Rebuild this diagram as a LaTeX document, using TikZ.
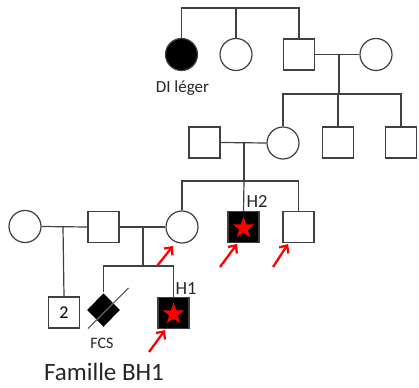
\documentclass[tikz,border=0pt]{standalone}
\usepackage{fontspec}
\setmainfont{Carlito}
\usetikzlibrary{shapes.geometric,arrows.meta}
\definecolor{ln}{RGB}{64,64,64}
\begin{document}
\begin{tikzpicture}[x=1pt,y=-1pt,
  line width=1.2pt,
  male/.style={draw=ln,rectangle,minimum size=31pt,inner sep=0pt,fill=white},
  female/.style={draw=ln,circle,minimum size=32pt,inner sep=0pt,fill=white},
  affected/.style={fill=black},
  lnk/.style={draw=ln,line width=1.2pt},
  redarrow/.style={draw=red,line width=2.3pt,-{Straight Barb[length=6pt,width=11pt]}},
  rstar/.style={star,star points=5,star point ratio=2.618,fill=red,minimum size=23pt,inner sep=0pt},
  lab/.style={font=\fontsize{17}{19}\selectfont,text=black!85,inner sep=0pt},
  hlab/.style={font=\fontsize{18.5}{20}\selectfont,text=black!85,inner sep=0pt}]
\useasboundingbox (0,0) rectangle (419,387);
% generation I
\node[female,affected] (di) at (181.5,54.5) {};
\node[female] (sis) at (236,54.5) {};
\node[male] (g1m) at (299,54.5) {};
\node[female] (g1w) at (376,54.5) {};
\node[lab] (dil) at (182.5,88.5) {DI léger};
\coordinate (s1) at (236,8);
\draw[lnk] (di.north) |- (s1) -| (g1m.north);
\draw[lnk] (sis.north) -- (s1);
\draw[lnk] (g1m.east) -- (g1w.west);
\coordinate (m1) at (339,54.5);
\coordinate (sib2) at (339,94);
% generation II
\node[male] (g2h) at (204.5,142.5) {};
\node[female] (g2w) at (283,143) {};
\node[male] (b1) at (338,142.5) {};
\node[male] (b2) at (401,142.5) {};
\draw[lnk] (m1) -- (sib2);
\draw[lnk] (g2w.north) |- (sib2) -| (b2.north);
\draw[lnk] (b1.north) -- (b1.north |- sib2);
\draw[lnk] (g2h.east) -- (g2w.west);
\coordinate (m2) at (244,142.5);
\coordinate (sib3) at (244,181);
% generation III
\node[female] (m3) at (182,227) {};
\node[male,affected] (h2) at (243.5,227) {};
\node[rstar] (h2s) at (243.5,228) {};
\node[male] (b3) at (298.5,227) {};
\node[hlab] (h2l) at (257,201.5) {H2};
\draw[lnk] (m2) -- (sib3);
\draw[lnk] (m3.north) |- (sib3) -| (b3.north);
\draw[lnk] (h2.north) -- (sib3);
% left family
\node[female] (lw) at (25,226.5) {};
\node[male] (lh) at (103.5,227) {};
\draw[lnk] (lw.east) -- (lh.west);
\draw[lnk] (lh.east) -- (m3.west);
\coordinate (m4) at (63,227);
\coordinate (m5) at (143,227);
\coordinate (sib4) at (143,266);
% generation IV
\node[male] (two) at (64,312.5) {\fontsize{18}{20}\selectfont 2};
\node[diamond,fill=black,minimum width=33pt,minimum height=34pt,inner sep=0pt] (fcs) at (103.5,310) {};
\node[male,affected] (h1) at (173.5,313) {};
\node[rstar] (h1s) at (173.5,314) {};
\node[font=\fontsize{16}{18}\selectfont,text=black!85,inner sep=0pt] (fcsl) at (102,343) {FCS};
\node[hlab] (h1l) at (186,289) {H1};
\draw[lnk] (m4) -- (two.north);
\draw[lnk] (m5) -- (sib4);
\draw[lnk] (fcs.north) |- (sib4) -| (h1.north);
\draw[draw=black!60,line width=1.1pt] ([shift={(-15.5,18.5)}]fcs.center) -- ([shift={(25,-22)}]fcs.center);
\node[font=\fontsize{25}{27}\selectfont,text=black!85,inner sep=0pt] (title) at (104,372) {Famille BH1};
% red arrows
\coordinate (a1t) at (157,266); \coordinate (a1h) at (173,246);
\coordinate (a2t) at (149,352); \coordinate (a2h) at (165,330);
\coordinate (a3t) at (220,267); \coordinate (a3h) at (237,244);
\coordinate (a4t) at (273,267); \coordinate (a4h) at (288,244);
\draw[redarrow] (a1t) -- (a1h);
\draw[redarrow] (a2t) -- (a2h);
\draw[redarrow] (a3t) -- (a3h);
\draw[redarrow] (a4t) -- (a4h);
\end{tikzpicture}
\end{document}
